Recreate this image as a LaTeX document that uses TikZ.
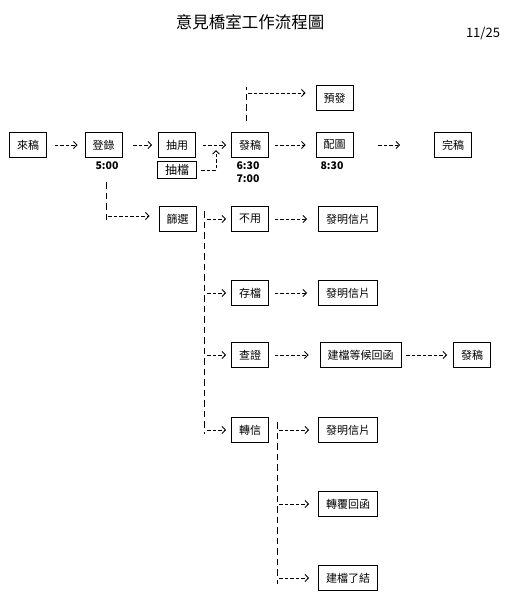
\documentclass[tikz,border=0pt]{standalone}
\usepackage{fontspec}
\setmainfont{Noto Sans CJK TC}
\usetikzlibrary{arrows.meta}
\tikzset{
  box/.style={draw=black, line width=0.9pt, fill=white, minimum height=25pt, minimum width=37pt, inner xsep=7.5pt, inner ysep=0pt, font=\fontsize{11}{13}\selectfont},
  hbox/.style={box, minimum height=17pt, line width=1.1pt, font=\fontsize{12}{13}\itshape\selectfont},
  timetext/.style={font=\fontsize{10.5}{12}\bfseries\selectfont, inner sep=0pt},
  dline/.style={line width=0.9pt, dash pattern=on 6.5pt off 4pt},
  darrow/.style={line width=0.9pt, dash pattern=on 3.5pt off 2pt, -{Straight Barb[length=3.5pt,width=7pt,line width=0.9pt]}},
}
\begin{document}
\begin{tikzpicture}[x=1pt,y=-1pt]
\useasboundingbox (0,0) rectangle (505,600);

% title and note
\node[font=\fontsize{16.5}{18}\selectfont] (title) at (250,22) {意見橋室工作流程圖};
\node[font=\fontsize{13}{14}\itshape\selectfont, inner sep=0pt] (note) at (483,33) {11/25};

% main row
\node[box] (laigao) at (28,145) {來稿};
\node[box] (denglu) at (103.5,145) {登錄};
\node[box] (chouyong) at (177,145) {抽用};
\node[box] (fagao) at (250,145) {發稿};
\node[box] (peitu) at (334.5,145) {配圖};
\node[box] (wangao) at (453,145) {完稿};
\node[box] (yufa) at (334.5,98) {預發};
\node[hbox] (choudang) at (177,170) {抽檔};

% times
\node[timetext] (t500) at (107,166) {5:00};
\node[timetext] (t630) at (248,166) {6:30};
\node[timetext] (t700) at (248,179) {7:00};
\node[timetext] (t830) at (332,166) {8:30};

% screening column
\node[box] (shaixuan) at (177.5,219) {篩選};
\node[box] (buyong) at (250,219) {不用};
\node[box] (cundang) at (250,293) {存檔};
\node[box] (chazheng) at (250,355) {查證};
\node[box] (zhuanxin) at (250,430) {轉信};

\node[box] (ming1) at (348,219) {發明信片};
\node[box] (ming2) at (348,293) {發明信片};
\node[box] (jiandang) at (360.5,355) {建檔等候回函};
\node[box] (fagao2) at (472,355) {發稿};
\node[box] (ming3) at (348,430) {發明信片};
\node[box] (zhuanfu) at (348,504) {轉覆回函};
\node[box] (jianle) at (348,578) {建檔了結};

% main row arrows
\draw[darrow, shorten <=8pt, shorten >=7pt] (laigao) -- (denglu);
\draw[darrow, shorten <=11pt, shorten >=6pt] (denglu) -- (chouyong);
\draw[darrow, shorten <=7pt, shorten >=5pt] (chouyong) -- (fagao);
\draw[darrow, shorten <=6pt, shorten >=10pt] (fagao) -- (peitu);
\draw[darrow, shorten <=25pt, shorten >=34pt] (peitu) -- (wangao);

% pre-release branch
\coordinate (yfTop) at (246,87);
\coordinate (yfBot) at (246,121);
\coordinate (yfJ) at (246,93);
\draw[dline] (yfBot) -- (yfTop);
\draw[darrow, shorten <=2pt, shorten >=10pt] (yfJ) -- (yfJ -| yufa.west);

% choudang to fagao
\coordinate (cdC) at (216,170);
\coordinate (cdT) at (216,150);
\draw[darrow, shorten <=4pt] (choudang.east) -- (cdC) -- (cdT);

% denglu down to screening
\coordinate (dlTop) at (106,182);
\coordinate (dlJ) at (106,216);
\coordinate (dlBot) at (106,221);
\draw[dline] (dlTop) -- (dlBot);
\draw[darrow, shorten <=2pt, shorten >=9pt] (dlJ) -- (dlJ -| shaixuan.west);

% screening branch
\coordinate (sxTop) at (204,211);
\coordinate (sxBot) at (204,434);
\draw[dline] (sxTop) -- (sxBot);
\foreach \n in {buyong,cundang,chazheng,zhuanxin}{
  \draw[darrow, shorten <=3pt, shorten >=5pt] (sxTop |- \n.west) -- (\n.west);
}

% right arrows
\draw[darrow, shorten <=6pt, shorten >=11pt] (buyong) -- (ming1);
\draw[darrow, shorten <=6pt, shorten >=11pt] (cundang) -- (ming2);
\draw[darrow, shorten <=6pt, shorten >=11pt] (chazheng) -- (jiandang);
\draw[darrow, shorten <=5pt, shorten >=6pt] (jiandang) -- (fagao2);

% forwarding branch
\coordinate (zxTop) at (277,422);
\coordinate (zxBot) at (277,584);
\draw[dline] (zxTop) -- (zxBot);
\foreach \n in {ming3,zhuanfu,jianle}{
  \draw[darrow, shorten <=2pt, shorten >=9pt] (zxTop |- \n.west) -- (\n.west);
}
\end{tikzpicture}
\end{document}
